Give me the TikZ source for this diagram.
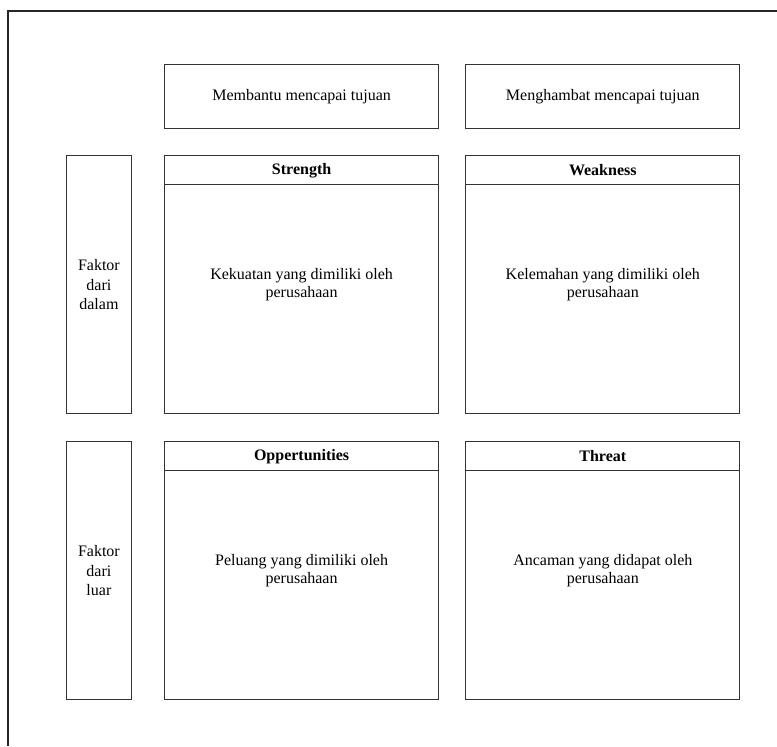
\documentclass[tikz,border=0pt]{standalone}
\usepackage{fontspec}
\setmainfont{Liberation Serif}
\usetikzlibrary{positioning}

\begin{document}
\begin{tikzpicture}[
  x=0.75pt, y=-0.75pt,
  node distance=20pt,
  goal/.style={draw=black!80, line width=0.9pt, minimum width=205.5pt, minimum height=48pt,
               inner sep=0pt, font=\fontsize{12}{14}\selectfont},
  cell/.style={draw=black!80, line width=0.9pt, minimum width=205.5pt, minimum height=193.5pt,
               align=center, inner sep=0pt, font=\fontsize{12}{14}\selectfont},
  hdrbar/.style={draw=black!80, line width=0.9pt, minimum width=205.5pt, minimum height=21.75pt,
                 inner sep=0pt, anchor=north, font=\fontsize{12}{14}\selectfont\bfseries},
  side/.style={draw=black!80, line width=0.9pt, minimum width=48.75pt, minimum height=193.5pt,
               align=center, inner sep=0pt, font=\fontsize{12}{14.5}\selectfont}
]
\useasboundingbox (0,0) rectangle (777,746);
% ===== outer frame =====
\draw[line width=0.8pt, black!85] (8,746) -- (8,11) -- (777,11);

% ===== Top row: goals =====
\node[goal, anchor=north west] (help) at (164,64) {Membantu mencapai tujuan};
\node[goal, right=19.5pt of help] (hinder) {Menghambat mencapai tujuan};

% ===== Middle row: internal factors =====
\node[cell, below=19.5pt of help]  (str)  {Kekuatan yang dimiliki oleh\\perusahaan};
\node[cell, below=19.5pt of hinder] (weak) {Kelemahan yang dimiliki oleh\\perusahaan};
\node[hdrbar] (strh)  at (str.north)  {Strength};
\node[hdrbar] (weakh) at (weak.north) {Weakness};
\node[side, left=24pt of str] (inner) {Faktor\\dari\\dalam};

% ===== Bottom row: external factors =====
\node[cell, below=20pt of str]  (opp)    {Peluang yang dimiliki oleh\\perusahaan};
\node[cell, below=20pt of weak] (threat) {Ancaman yang didapat oleh\\perusahaan};
\node[hdrbar] (opph)    at (opp.north)    {Oppertunities};
\node[hdrbar] (threath) at (threat.north) {Threat};
\node[side, left=24pt of opp] (outer) {Faktor\\dari\\luar};

\end{tikzpicture}
\end{document}
